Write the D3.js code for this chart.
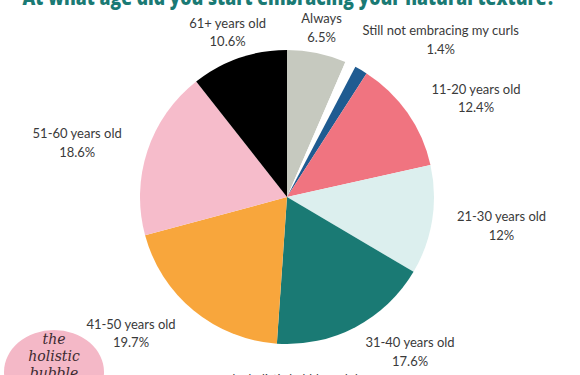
<!DOCTYPE html>
<html>
<head>
<meta charset="utf-8">
<script src="https://cdn.jsdelivr.net/npm/d3@7"></script>
<style>
  body { margin: 0; background: #fff; }
  svg { display: block; }
</style>
</head>
<body>
<div id="chart"></div>
<script>
// chart data
const categories = ["Always", "", "Still not embracing my curls", "11-20 years old", "21-30 years old",
  "31-40 years old", "41-50 years old", "51-60 years old", "61+ years old"];
const values = [6.5, 1.2, 1.4, 12.4, 12, 17.6, 19.7, 18.6, 10.6];
const valueLabels = ["6.5%", "", "1.4%", "12.4%", "12%", "17.6%", "19.7%", "18.6%", "10.6%"];
const colors = ["#c6c9bf", "#ffffff", "#1f5b91", "#f07480", "#dcefee", "#1a7a74", "#f8a63c", "#f6bccb", "#000000"];

const width = 580, height = 375;
const cx = 287, cy = 197, radius = 147;

// label fine tuning around the centroid ring
const labelNudge = {
  "Always": [-6, 26],
  "Still not embracing my curls": [53, 15],
  "11-20 years old": [25, 15],
  "21-30 years old": [17, -3],
  "31-40 years old": [30, -23],
  "41-50 years old": [-29, -19],
  "51-60 years old": [-20, 8],
  "61+ years old": [6, 24]
};

const svg = d3.select("#chart")
  .append("svg")
  .attr("width", width)
  .attr("height", height);

// title (cut at top like the source)
svg.append("text")
  .attr("x", 289)
  .attr("y", 5)
  .attr("text-anchor", "middle")
  .attr("font-family", "Open Sans")
  .attr("font-weight", 800)
  .attr("font-size", 21)
  .attr("textLength", 533)
  .attr("lengthAdjust", "spacingAndGlyphs")
  .attr("fill", "#1a7a74")
  .text("At what age did you start embracing your natural texture?");

const pie = d3.pie().sort(null).value(d => d);
const arcs = pie(values);

const arc = d3.arc().innerRadius(0).outerRadius(radius);
const labelArc = d3.arc().innerRadius(200).outerRadius(200);

const g = svg.append("g").attr("transform", `translate(${cx},${cy})`);

g.selectAll("path.slice")
  .data(arcs)
  .enter()
  .append("path")
  .attr("class", "slice")
  .attr("d", arc)
  .attr("fill", (d, i) => colors[i]);

// labels
const labels = g.selectAll("g.lbl")
  .data(arcs.filter((d, i) => categories[i] !== ""))
  .enter()
  .append("g")
  .attr("class", "lbl")
  .attr("transform", d => {
    const c = labelArc.centroid(d);
    const n = labelNudge[categories[d.index]] || [0, 0];
    return `translate(${c[0] + n[0]},${c[1] + n[1]})`;
  });

labels.append("text")
  .attr("y", -4)
  .attr("text-anchor", "middle")
  .attr("font-family", "Lato")
  .attr("font-size", 13)
  .attr("fill", "#3a3a3a")
  .text(d => categories[d.index]);

labels.append("text")
  .attr("y", 14.5)
  .attr("text-anchor", "middle")
  .attr("font-family", "Lato")
  .attr("font-size", 13)
  .attr("fill", "#3a3a3a")
  .text(d => valueLabels[d.index]);

// footnote, mostly cut off by the bottom edge
svg.append("text")
  .attr("x", 287)
  .attr("y", 383)
  .attr("text-anchor", "middle")
  .attr("font-family", "Lato")
  .attr("font-size", 12)
  .attr("fill", "#3a3a3a")
  .text("Info from the holistic bubble and the team");

// logo blob
const logo = svg.append("g").attr("transform", "translate(54,372)");
logo.append("ellipse")
  .attr("rx", 50)
  .attr("ry", 42)
  .attr("fill", "#f4b8c7");
logo.selectAll("text")
  .data(["the", "holistic", "bubble"])
  .enter()
  .append("text")
  .attr("x", 0)
  .attr("y", (d, i) => -28 + i * 17)
  .attr("text-anchor", "middle")
  .attr("font-family", "DejaVu Serif")
  .attr("font-style", "italic")
  .attr("font-size", 14)
  .attr("fill", "#3b2a30")
  .text(d => d);
</script>
</body>
</html>
